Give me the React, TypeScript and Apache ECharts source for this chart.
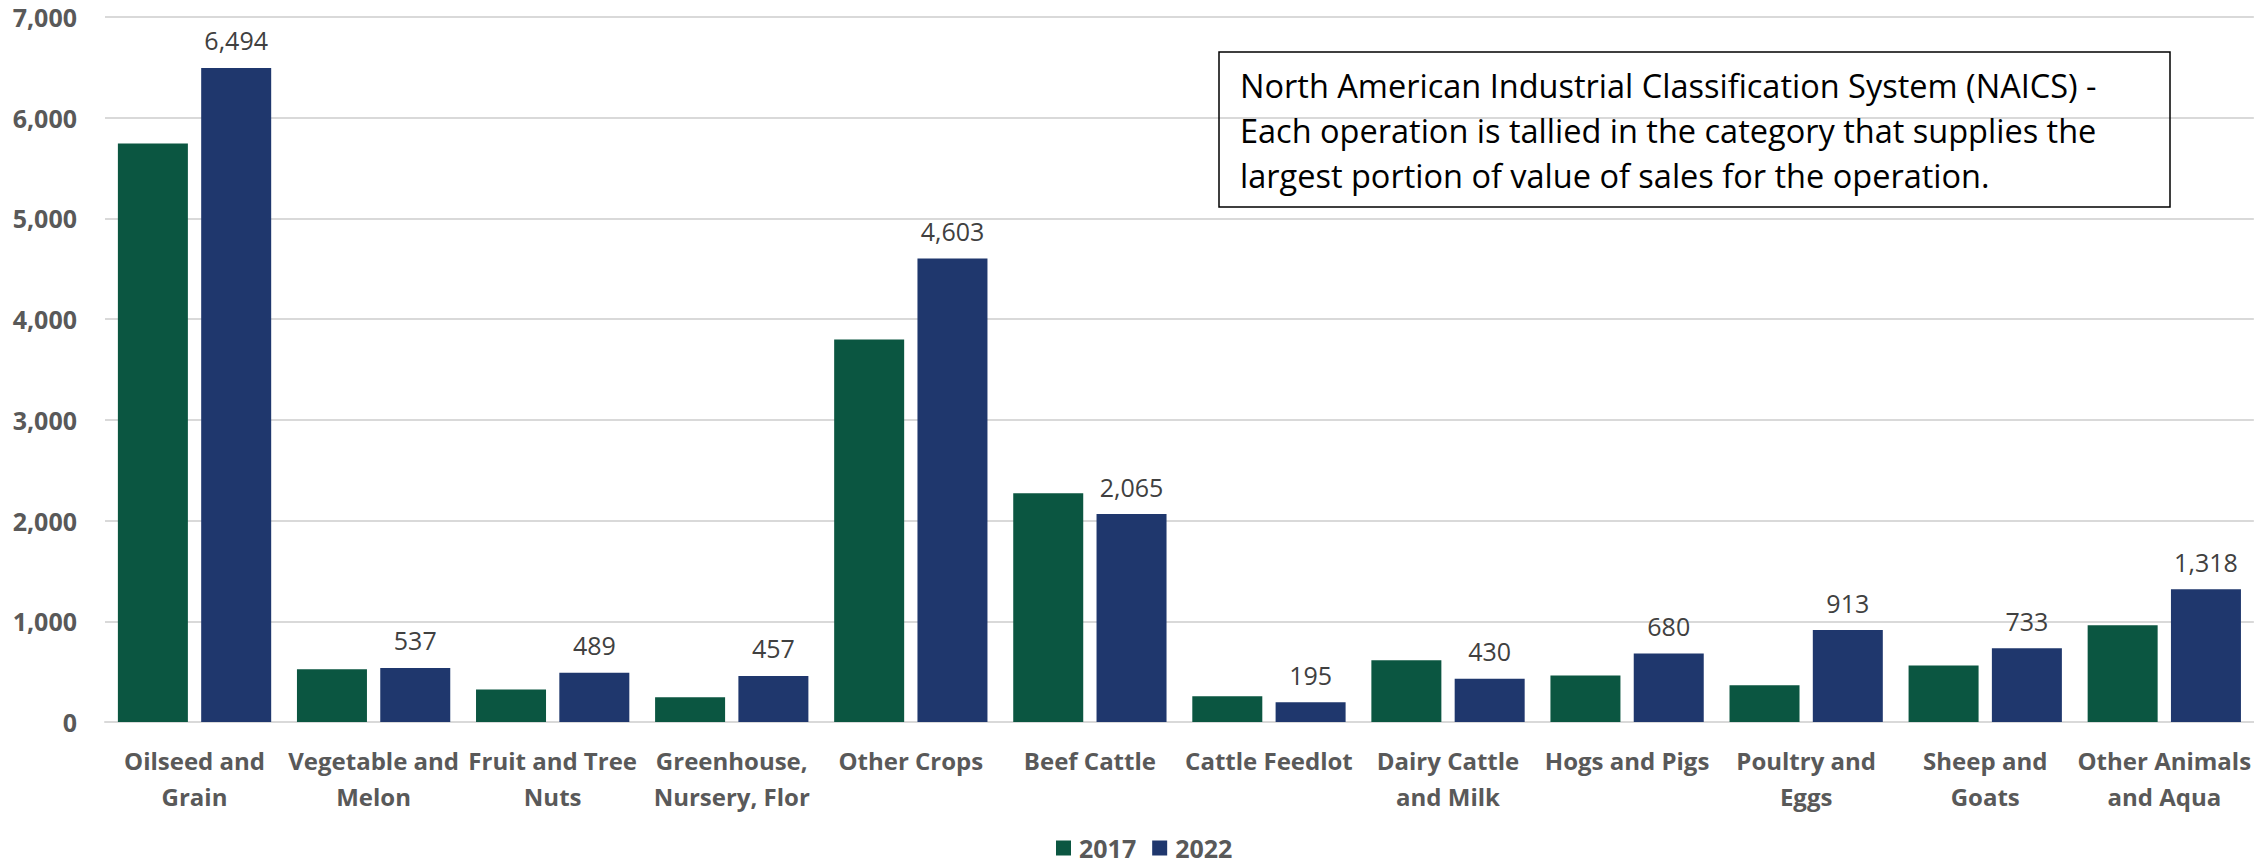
import React, { useEffect, useRef } from "react";
import * as echarts from "echarts";

const categories = [
  "Oilseed and\nGrain",
  "Vegetable and\nMelon",
  "Fruit and Tree\nNuts",
  "Greenhouse,\nNursery, Flor",
  "Other Crops",
  "Beef Cattle",
  "Cattle Feedlot",
  "Dairy Cattle\nand Milk",
  "Hogs and Pigs",
  "Poultry and\nEggs",
  "Sheep and\nGoats",
  "Other Animals\nand Aqua",
];

const values2017 = [5745, 523, 322, 245, 3798, 2272, 255, 613, 461, 365, 560, 961];
const values2022 = [6494, 537, 489, 457, 4603, 2065, 195, 430, 680, 913, 733, 1318];

const yTicks = [0, 1000, 2000, 3000, 4000, 5000, 6000, 7000];

const noteText =
  "North American Industrial Classification System (NAICS) -\nEach operation is tallied in the category that supplies the\nlargest portion of value of sales for the operation.";

const GREEN = "#0B5641";
const BLUE = "#1F376D";
const FONT = "'Open Sans', 'Liberation Sans', sans-serif";

const fmt = (v: number) => v.toLocaleString("en-US");

export default function App() {
  const ref = useRef<HTMLDivElement>(null);

  useEffect(() => {
    document.body.style.margin = "0";
    if (!ref.current) return;
    const chart = echarts.init(ref.current, undefined, { renderer: "svg" });
    chart.setOption({
      animation: false,
      backgroundColor: "#ffffff",
      textStyle: { fontFamily: FONT },
      grid: { left: 105, top: 17, width: 2151, height: 705, containLabel: false },
      legend: {
        left: 1051,
        top: 828,
        itemWidth: 15,
        itemHeight: 15,
        itemGap: 16,
        icon: "rect",
        textStyle: {
          fontFamily: FONT,
          fontSize: 25,
          fontWeight: "bold",
          color: "#595959",
          lineHeight: 30,
          padding: [0, 0, 0, 3],
        },
        data: ["2017", "2022"],
      },
      xAxis: {
        type: "category",
        data: categories,
        axisLine: { show: true, lineStyle: { color: "#d9d9d9", width: 2 } },
        axisTick: { show: false },
        axisLabel: {
          interval: 0,
          margin: 20,
          fontFamily: FONT,
          fontSize: 24,
          fontWeight: "bold",
          color: "#595959",
          lineHeight: 36,
        },
      },
      yAxis: {
        type: "value",
        min: yTicks[0],
        max: yTicks[yTicks.length - 1],
        interval: 1000,
        axisLine: { show: false },
        axisTick: { show: false },
        splitLine: { lineStyle: { color: "#d9d9d9", width: 2 } },
        axisLabel: {
          margin: 28,
          fontFamily: FONT,
          fontSize: 25,
          fontWeight: "bold",
          color: "#595959",
          formatter: (v: number) => fmt(v),
        },
      },
      series: [
        {
          name: "2017",
          type: "bar",
          data: values2017,
          barWidth: 70,
          barGap: "19%",
          itemStyle: { color: GREEN },
        },
        {
          name: "2022",
          type: "bar",
          data: values2022,
          barWidth: 70,
          barGap: "19%",
          itemStyle: { color: BLUE },
          label: {
            show: true,
            position: "top",
            distance: 15,
            fontFamily: FONT,
            fontSize: 25,
            color: "#404040",
            formatter: (p: any) => fmt(p.value),
          },
        },
      ],
      graphic: [
        {
          type: "rect",
          shape: { x: 1219, y: 52, width: 951, height: 155 },
          style: { fill: "none", stroke: "#000000", lineWidth: 1.5 },
          z: 10,
        },
        {
          type: "text",
          x: 1240,
          y: 63,
          z: 11,
          style: {
            text: noteText,
            fill: "#000000",
            font: "32.5px " + FONT,
            lineHeight: 45,
            verticalAlign: "top",
            align: "left",
          },
        },
      ],
    });
    return () => chart.dispose();
  }, []);

  return (
    <div
      ref={ref}
      style={{ position: "fixed", left: 0, top: 0, width: 2254, height: 866 }}
    />
  );
}
